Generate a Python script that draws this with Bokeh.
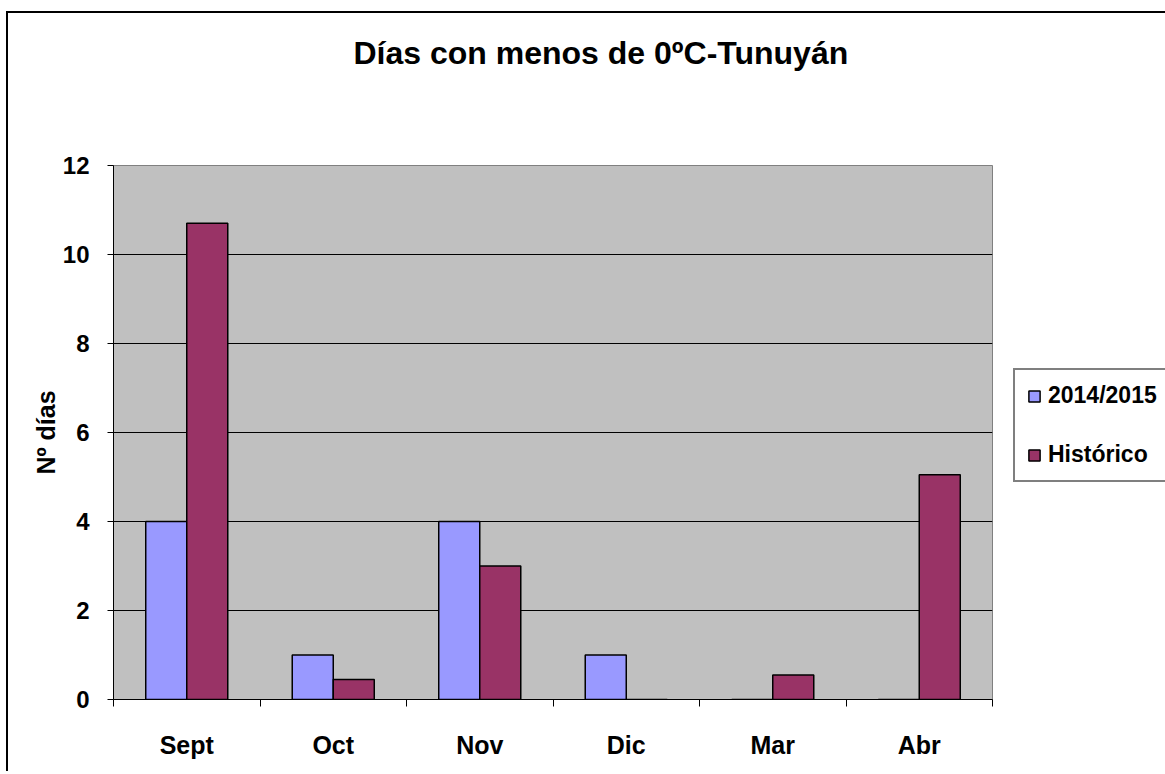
from bokeh.plotting import figure
from bokeh.models import (ColumnDataSource, Range1d, FixedTicker, LinearAxis,
                          Legend, LegendItem, Title)
from bokeh.transform import dodge
from bokeh.embed import file_html
from bokeh.resources import INLINE

# ---- data ----
categories = ["Sept", "Oct", "Nov", "Dic", "Mar", "Abr"]
season_2014_2015 = [4, 1, 4, 1, 0, 0]
historico = [10.7, 0.45, 3.0, 0, 0.55, 5.05]
y_ticks = [0, 2, 4, 6, 8, 10, 12]
series_names = ["2014/2015", "Histórico"]

FONT = "Liberation Sans"
positions = [i + 0.5 for i in range(len(categories))]
src = ColumnDataSource(dict(x=positions, a=season_2014_2015, b=historico))

p = figure(frame_width=879, frame_height=534,
           min_border_left=105, min_border_right=170,
           min_border_top=152, min_border_bottom=72,
           x_range=Range1d(0, len(categories)), y_range=Range1d(0, 12),
           output_backend="svg", toolbar_location=None,
           x_axis_location=None, y_axis_location=None)
p.styles = {"border-left": "2px solid black", "border-top": "2px solid black",
            "margin-top": "11px", "margin-left": "6px"}

p.background_fill_color = "#C0C0C0"
p.border_fill_color = "white"
p.outline_line_color = "#808080"
p.outline_line_width = 1

r1 = p.vbar(x=dodge("x", -0.14, range=p.x_range), top="a", width=0.28, source=src,
            fill_color="#9999FF", line_color="black", line_width=1.5)
r2 = p.vbar(x=dodge("x", 0.14, range=p.x_range), top="b", width=0.28, source=src,
            fill_color="#993366", line_color="black", line_width=1.5)

# y axis
yax = LinearAxis(ticker=FixedTicker(ticks=y_ticks, minor_ticks=[]),
                 axis_label="Nº días")
yax.axis_line_color = "black"
yax.major_tick_out = 6
yax.major_tick_in = 0
yax.major_tick_line_color = "black"
yax.major_label_text_font = FONT
yax.major_label_text_font_style = "bold"
yax.major_label_text_font_size = "24px"
yax.major_label_text_color = "black"
yax.major_label_standoff = 18
yax.axis_label_text_font = FONT
yax.axis_label_text_font_style = "bold"
yax.axis_label_text_font_size = "25px"
yax.axis_label_text_color = "black"
yax.axis_label_standoff = 0
p.add_layout(yax, "left")

# x axis: labels at category centres, ticks at category boundaries
xax = LinearAxis(ticker=FixedTicker(ticks=positions,
                                    minor_ticks=list(range(len(categories) + 1))))
xax.major_label_overrides = {pos: cat for pos, cat in zip(positions, categories)}
xax.axis_line_color = "black"
xax.major_tick_line_color = None
xax.major_tick_out = 0
xax.major_tick_in = 0
xax.minor_tick_line_color = "black"
xax.minor_tick_out = 7
xax.minor_tick_in = 0
xax.major_label_text_font = FONT
xax.major_label_text_font_style = "bold"
xax.major_label_text_font_size = "25px"
xax.major_label_text_color = "black"
xax.major_label_standoff = 24
p.add_layout(xax, "below")

p.xgrid.visible = False
p.ygrid.ticker = FixedTicker(ticks=y_ticks)
p.ygrid.grid_line_color = "black"
p.ygrid.grid_line_width = 1

# invisible spacer between the frame and the title (hidden tick, empty label)
spacer = LinearAxis(ticker=FixedTicker(ticks=[3], minor_ticks=[]))
spacer.major_label_overrides = {3: ""}
spacer.axis_line_color = None
spacer.major_tick_line_color = None
spacer.minor_tick_line_color = None
spacer.major_tick_out = 76
spacer.major_tick_in = 0
spacer.minor_tick_out = 0
spacer.major_label_standoff = 0
spacer.major_label_text_font_size = "1px"
p.add_layout(spacer, "above")

title = Title(text="Días con menos de 0ºC-Tunuyán", align="left", offset=240,
              standoff=38,
              text_font=FONT, text_font_style="bold", text_font_size="32px",
              text_color="black")
p.add_layout(title, "above")

legend = Legend(items=[LegendItem(label=series_names[0], renderers=[r1]),
                       LegendItem(label=series_names[1], renderers=[r2])],
                location=(21, 217))
legend.border_line_color = "black"
legend.border_line_width = 2
legend.background_fill_color = "white"
legend.background_fill_alpha = 1
legend.label_text_font = FONT
legend.label_text_font_style = "bold"
legend.label_text_font_size = "23px"
legend.label_text_color = "black"
legend.glyph_width = 14
legend.glyph_height = 14
legend.label_standoff = 7
legend.padding = 12
legend.spacing = 32
legend.margin = 0
p.add_layout(legend, "right")

open("out.html", "w").write(file_html(p, INLINE))
